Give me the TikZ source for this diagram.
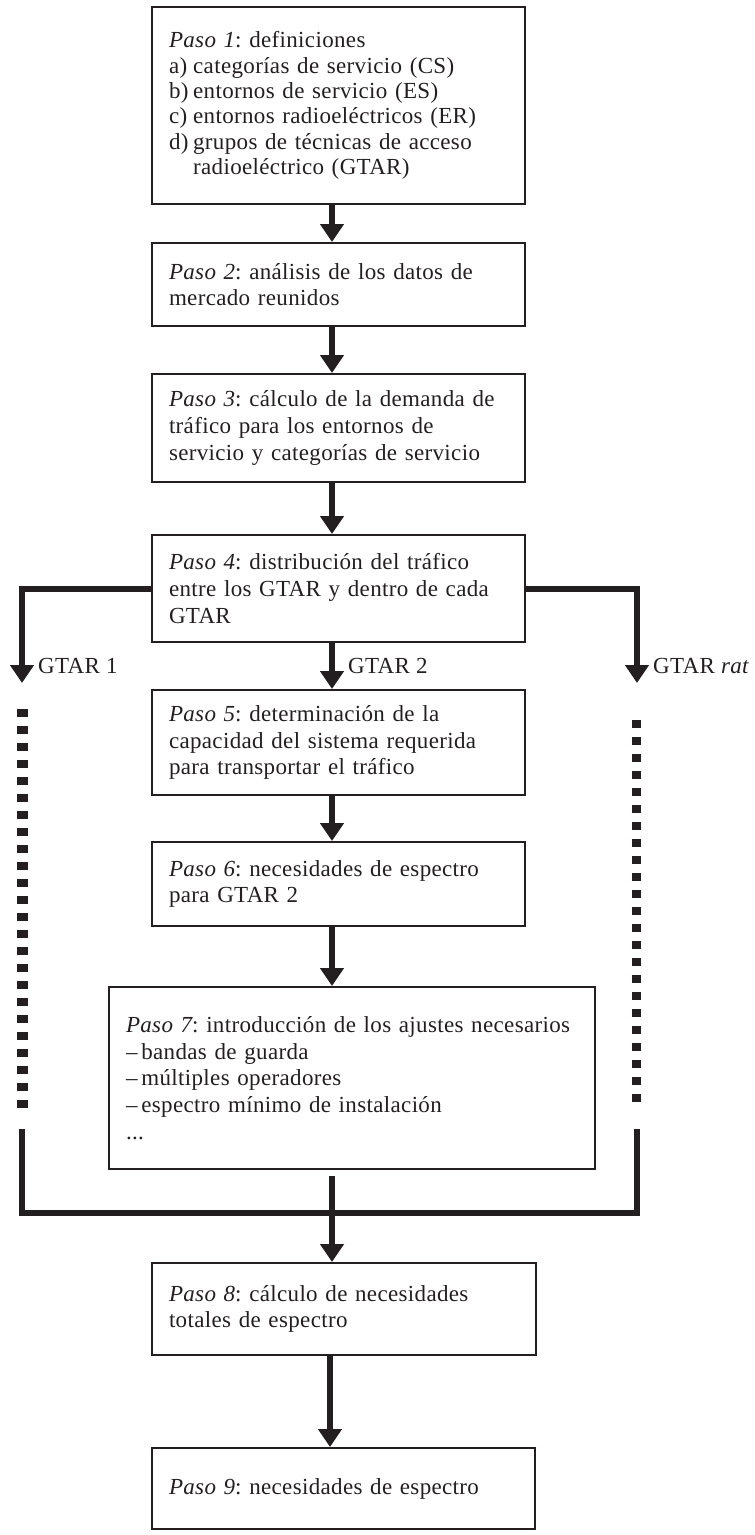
\documentclass[tikz,border=0pt]{standalone}
\usepackage{fontspec}
\setmainfont{Liberation Serif}[LetterSpace=1.5]
\usetikzlibrary{arrows.meta}
\definecolor{ink}{RGB}{35,31,32}
\frenchspacing
\newcommand{\lbl}[1]{\makebox[1.05em][l]{#1}}
\newcommand{\paso}[1]{{\itshape Paso #1}}
\begin{document}
\frenchspacing
\begin{tikzpicture}[x=1pt,y=-1pt,
  stepbox/.style={draw=ink,line width=2pt,inner xsep=17pt,inner ysep=0pt,align=left,
    text=ink,font=\fontsize{23pt}{26.7pt}\selectfont\frenchspacing},
  arr/.style={draw=ink,line width=6pt,-{Triangle[length=18pt,width=23pt]}},
  bar/.style={draw=ink,line width=6pt},
  dotsL/.style={draw=ink,line width=11pt,dash pattern=on 8pt off 9pt},
  dotsR/.style={draw=ink,line width=9pt,dash pattern=on 8pt off 9pt},
  gtar/.style={text=ink,inner sep=0pt,anchor=base west,font=\fontsize{23pt}{26.7pt}\selectfont}]
\useasboundingbox (0,0) rectangle (755,1535);

\node[stepbox,minimum height=197pt,text width=339pt,font=\fontsize{23pt}{25.3pt}\selectfont\frenchspacing] (b1) at (338.5,105.5)
 {\paso{1}: definiciones\\
  \lbl{a)}categorías de servicio (CS)\\
  \lbl{b)}entornos de servicio (ES)\\
  \lbl{c)}entornos radioeléctricos (ER)\\
  \lbl{d)}grupos de técnicas de acceso\\
  \hspace*{1.05em}radioeléctrico (GTAR)};
\node[stepbox,minimum height=83pt,text width=339pt] (b2) at (338.5,284.5)
 {\paso{2}: análisis de los datos de\\ mercado reunidos};
\node[stepbox,minimum height=108pt,text width=339pt] (b3) at (338.5,428)
 {\paso{3}: cálculo de la demanda de\\ tráfico para los entornos de\\ servicio y categorías de servicio};
\node[stepbox,minimum height=107pt,text width=339pt] (b4) at (338.5,588.5)
 {\paso{4}: distribución del tráfico\\ entre los GTAR y dentro de cada\\ GTAR};
\node[stepbox,minimum height=105pt,text width=339pt] (b5) at (338.5,742.5)
 {\paso{5}: determinación de la\\ capacidad del sistema requerida\\ para transportar el tráfico};
\node[stepbox,minimum height=84pt,text width=339pt] (b6) at (338.5,884)
 {\paso{6}: necesidades de espectro\\ para GTAR 2};
\node[stepbox,minimum height=182pt,text width=452pt] (b7) at (352,1078)
 {\paso{7}: introducción de los ajustes necesarios\\
  –\,bandas de guarda\\
  –\,múltiples operadores\\
  –\,espectro mínimo de instalación\\
  ...};
\node[stepbox,minimum height=92pt,text width=350pt] (b8) at (344,1309)
 {\paso{8}: cálculo de necesidades\\ totales de espectro};
\node[stepbox,minimum height=81pt,text width=349pt] (b9) at (343.5,1488.5)
 {\paso{9}: necesidades de espectro};

\coordinate (ax) at (332,0);
\coordinate (axb) at (330,0);
\draw[arr] (b1.south -| ax) -- (b2.north -| ax);
\draw[arr] (b2.south -| ax) -- (b3.north -| ax);
\draw[arr] (b3.south -| ax) -- (b4.north -| ax);
\draw[arr] (b4.south -| ax) -- (b5.north -| ax);
\draw[arr] (b5.south -| ax) -- (b6.north -| ax);
\draw[arr] (b6.south -| ax) -- (b7.north -| ax);
\draw[arr,shorten <=6pt] (b7.south -| ax) -- (b8.north -| ax);
\draw[arr] (b8.south -| axb) -- (b9.north -| axb);

% side branches
\coordinate (g1) at (22,683);
\coordinate (gr) at (637,683);
\draw[arr] (b4.west) -| (g1);
\draw[arr] (b4.east) -| (gr);
\node[gtar] (t1) at (38,673) {GTAR 1};
\node[gtar] (t2) at (348,673) {GTAR 2};
\node[gtar] (t3) at (653,673) {GTAR \textit{rat}};

% dotted continuations
\coordinate (dl1) at (22,709);
\coordinate (dl2) at (22,1109);
\coordinate (dr1) at (636,720);
\coordinate (dr2) at (636,1103);
\draw[dotsL] (dl1) -- (dl2);
\draw[dotsR] (dr1) -- (dr2);

% collecting bar
\coordinate (lt) at (22,1129);
\coordinate (lb) at (22,1213);
\coordinate (rb) at (637,1213);
\coordinate (rt) at (637,1129);
\draw[bar] (lt) -- (lb) -- (rb) -- (rt);
\end{tikzpicture}
\end{document}
